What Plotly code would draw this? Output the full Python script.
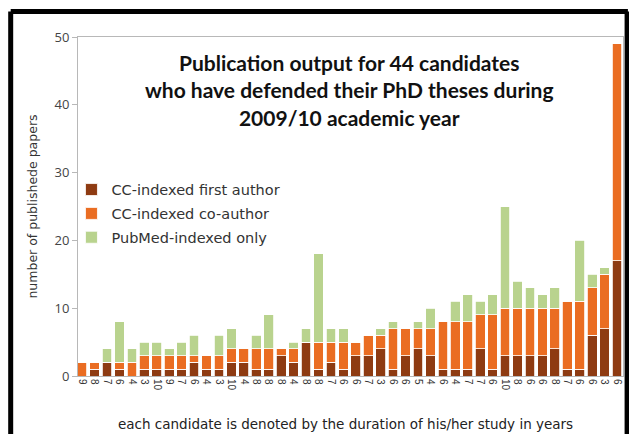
import plotly.graph_objects as go

durations = [9, 8, 7, 6, 4, 3, 10, 9, 7, 6, 4, 3, 10, 4, 8, 8, 8, 4, 8, 8, 7, 6,
             6, 7, 3, 6, 6, 5, 4, 6, 4, 7, 7, 6, 10, 8, 6, 6, 8, 7, 6, 6, 3, 6]
first_author = [0, 1, 2, 1, 0, 1, 1, 1, 1, 2, 1, 1, 2, 2, 1, 1, 3, 2, 5, 1, 2, 1,
                3, 3, 4, 1, 3, 4, 3, 1, 1, 1, 4, 1, 3, 3, 3, 3, 4, 1, 1, 6, 7, 17]
co_author = [2, 1, 0, 1, 2, 2, 2, 2, 2, 1, 2, 2, 2, 2, 3, 3, 1, 2, 0, 4, 3, 4,
             2, 3, 2, 6, 4, 3, 4, 7, 7, 7, 5, 8, 7, 7, 7, 7, 6, 10, 10, 7, 8, 32]
pubmed_only = [0, 0, 2, 6, 2, 2, 2, 1, 2, 3, 0, 3, 3, 0, 2, 5, 0, 1, 2, 13, 2, 2,
               0, 0, 1, 1, 0, 1, 3, 0, 3, 4, 2, 3, 15, 4, 3, 2, 3, 0, 9, 2, 1, 0]
series_names = ["CC-indexed first author", "CC-indexed co-author", "PubMed-indexed only"]
title_lines = ["Publication output for 44 candidates",
               "who have defended their PhD theses during",
               "2009/10 academic year"]
x_title = "each candidate is denoted by the duration of his/her study in years"
y_title = "number of publishede papers"

idx = list(range(len(durations)))
colors = ["#8E3B12", "#EA6D22", "#B9D38E"]

fig = go.Figure()
for name, vals, col in zip(series_names, [first_author, co_author, pubmed_only], colors):
    fig.add_trace(go.Bar(x=idx, y=vals, name=name, legendgroup=name,
                         marker=dict(color=col, line=dict(color="white", width=0.8))))

fig.update_layout(
    width=629, height=434,
    margin=dict(l=78, r=6, t=37, b=58),
    barmode="stack", bargap=0.22,
    plot_bgcolor="white", paper_bgcolor="white",
    showlegend=True,
    legend=dict(x=-0.012, y=0.597, xanchor="left", yanchor="top", traceorder="grouped",
                font=dict(family="DejaVu Sans", size=14.5, color="#333333"),
                bgcolor="rgba(0,0,0,0)", tracegroupgap=2, itemwidth=30),
    xaxis=dict(range=[-0.33, 43.48], tickmode="array", tickvals=idx,
               ticktext=[str(d) for d in durations], tickangle=90, automargin=False,
               tickfont=dict(family="Liberation Sans, Arial", size=10, color="#333333"),
               showline=True, linecolor="#b8b8b8", mirror=True, ticks=""),
    yaxis=dict(range=[0, 50], tickvals=[0, 10, 20, 30, 40, 50], showgrid=False, zeroline=False,
               showline=True, linecolor="#b8b8b8", mirror=True, ticks="outside", ticklen=5,
               tickcolor="#b8b8b8", automargin=False,
               tickfont=dict(family="Open Sans, Arial", size=13, color="#444444"),
               title=dict(text=y_title,
                          font=dict(family="DejaVu Sans", size=12.5, color="#333333"),
                          standoff=14)),
)

fig.add_annotation(xref="paper", yref="paper", x=0.49, y=-0.142, xanchor="center", yanchor="middle",
                   text=x_title, showarrow=False,
                   font=dict(family="DejaVu Sans", size=13.5, color="#222222"))

fig.add_annotation(xref="paper", yref="paper", x=0.497, y=0.968, xanchor="center", yanchor="top",
                   text="<br>".join(title_lines), showarrow=False, align="center",
                   font=dict(family="Lato, Open Sans", size=21, color="#111111", weight="bold"))

# black scan frame
for x0, y0, x1, y1 in [(-0.1235, 1.0752, 1.009, 1.0752), (-0.1235, 1.0752, -0.1235, -0.2),
                       (1.0075, 1.0752, 1.0075, -0.2)]:
    fig.add_shape(type="line", xref="paper", yref="paper", x0=x0, y0=y0, x1=x1, y1=y1,
                  line=dict(color="black", width=5))

fig.write_html("out.html", config={"displayModeBar": False},
               post_script="document.body.style.margin='0';")
